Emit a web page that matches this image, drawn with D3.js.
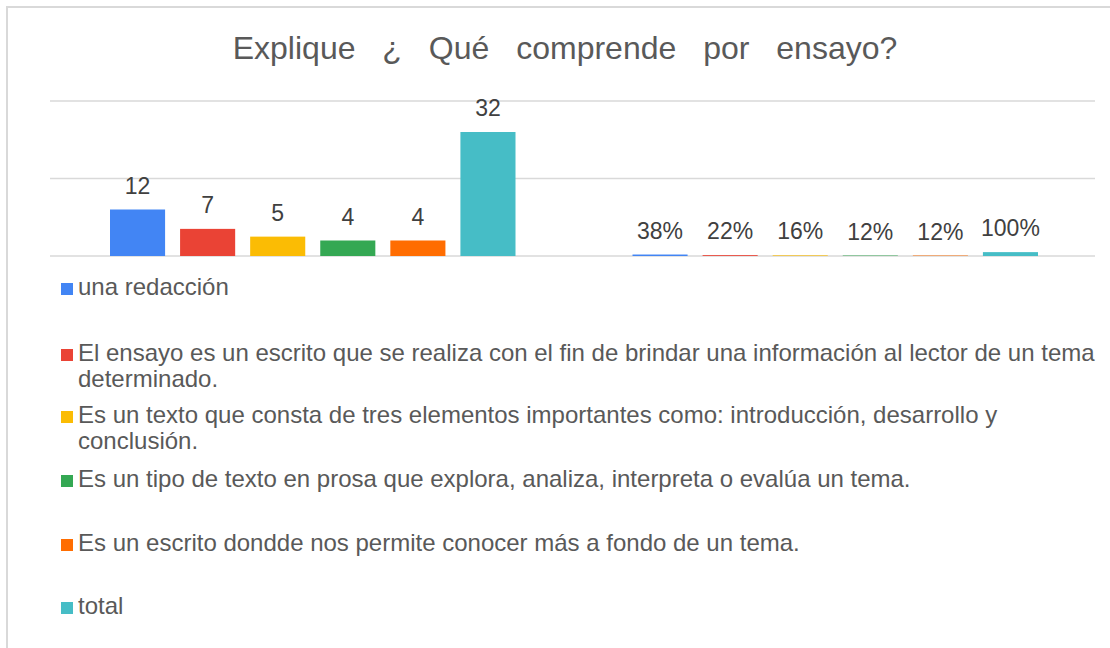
<!DOCTYPE html>
<html>
<head>
<meta charset="utf-8">
<script src="https://cdn.jsdelivr.net/npm/d3@7"></script>
<style>
  body { margin: 0; background: #fff; }
  svg { font-family: "Liberation Sans", Arial, sans-serif; }
</style>
</head>
<body>
<svg width="1110" height="648"></svg>
<script>
    var svg = d3.select("svg"),
        width = +svg.attr("width"),
        height = +svg.attr("height");

    // data
    var groups = ["conteo", "porcentaje"];
    var series = [
        "una redacción",
        "El ensayo es un escrito que se realiza con el fin de brindar una información al lector de un tema determinado.",
        "Es un texto que consta de tres elementos importantes como: introducción, desarrollo y conclusión.",
        "Es un tipo de texto en prosa que explora, analiza, interpreta o evalúa un tema.",
        "Es un escrito dondde nos permite conocer más a fondo de un tema.",
        "total"
    ];
    var counts = [12, 7, 5, 4, 4, 32];
    var percents = [0.38, 0.22, 0.16, 0.12, 0.12, 1.00];
    var percentLabels = ["38%", "22%", "16%", "12%", "12%", "100%"];
    var yTicks = [0, 20, 40];
    var colors = ["#4285F4", "#EA4335", "#FBBC04", "#34A853", "#FF6D01", "#46BDC6"];

    // frame
    svg.append("rect")
        .attr("x", 7).attr("y", 7)
        .attr("width", width + 10).attr("height", height + 10)
        .attr("fill", "none")
        .attr("stroke", "#d9d9d9")
        .attr("stroke-width", 2);

    // the title has wide gaps between its words
    svg.append("text")
        .attr("x", 565).attr("y", 59)
        .attr("text-anchor", "middle")
        .attr("font-size", 32)
        .attr("word-spacing", 18)
        .attr("fill", "#595959")
        .text("Explique ¿ Qué comprende por ensayo?");

    var x0 = d3.scaleBand().domain(groups).range([50, 1095]);
    var x1 = d3.scaleBand().domain(d3.range(series.length))
        .range([60, x0.bandwidth() - 57])
        .paddingInner(0.214);
    var y = d3.scaleLinear().domain([0, 40]).range([256, 101]);

    // gridlines
    svg.append("g").selectAll("line")
        .data(yTicks)
        .enter().append("line")
        .attr("x1", 50).attr("x2", 1095)
        .attr("y1", function (d) { return y(d); })
        .attr("y2", function (d) { return y(d); })
        .attr("stroke", "#d9d9d9")
        .attr("stroke-width", 1.5);

    var rows = [
        counts.map(function (v, i) { return {i: i, v: v, label: String(v)}; }),
        percents.map(function (v, i) { return {i: i, v: v, label: percentLabels[i]}; })
    ];

    var g = svg.selectAll("g.group")
        .data(rows)
        .enter().append("g")
        .attr("class", "group")
        .attr("transform", function (d, k) { return "translate(" + x0(groups[k]) + ",0)"; });

    g.selectAll("rect")
        .data(function (d) { return d; })
        .enter().append("rect")
        .attr("x", function (d) { return x1(d.i); })
        .attr("width", x1.bandwidth())
        .attr("y", function (d) { return y(d.v); })
        .attr("height", function (d) { return y(0) - y(d.v); })
        .attr("fill", function (d) { return colors[d.i]; });

    g.selectAll("text")
        .data(function (d) { return d; })
        .enter().append("text")
        .attr("x", function (d) { return x1(d.i) + x1.bandwidth() / 2; })
        .attr("y", function (d) { return y(d.v) - 16; })
        .attr("text-anchor", "middle")
        .attr("font-size", 23)
        .attr("fill", "#404040")
        .text(function (d) { return d.label; });

    // legend
    var legendY = [289, 355, 417, 481, 545, 608];
    var legendLines = [
        ["una redacción"],
        ["El ensayo es un escrito que se realiza con el fin de brindar una información al lector de un tema", "determinado."],
        ["Es un texto que consta de tres elementos importantes como: introducción, desarrollo y", "conclusión."],
        ["Es un tipo de texto en prosa que explora, analiza, interpreta o evalúa un tema."],
        ["Es un escrito dondde nos permite conocer más a fondo de un tema."],
        ["total"]
    ];

    var lg = svg.selectAll("g.legend")
        .data(series)
        .enter().append("g")
        .attr("class", "legend")
        .attr("transform", function (d, i) { return "translate(61," + legendY[i] + ")"; });

    lg.append("rect")
        .attr("x", 0).attr("y", -6)
        .attr("width", 12).attr("height", 12)
        .attr("fill", function (d, i) { return colors[i]; });

    lg.append("text")
        .attr("x", 17)
        .attr("y", 6)
        .attr("font-size", 24)
        .attr("fill", "#595959")
        .selectAll("tspan")
        .data(function (d, i) { return legendLines[i]; })
        .enter().append("tspan")
        .attr("x", 17)
        .attr("dy", function (d, j) { return j === 0 ? 0 : 26; })
        .text(function (d) { return d; });
</script>
</body>
</html>
